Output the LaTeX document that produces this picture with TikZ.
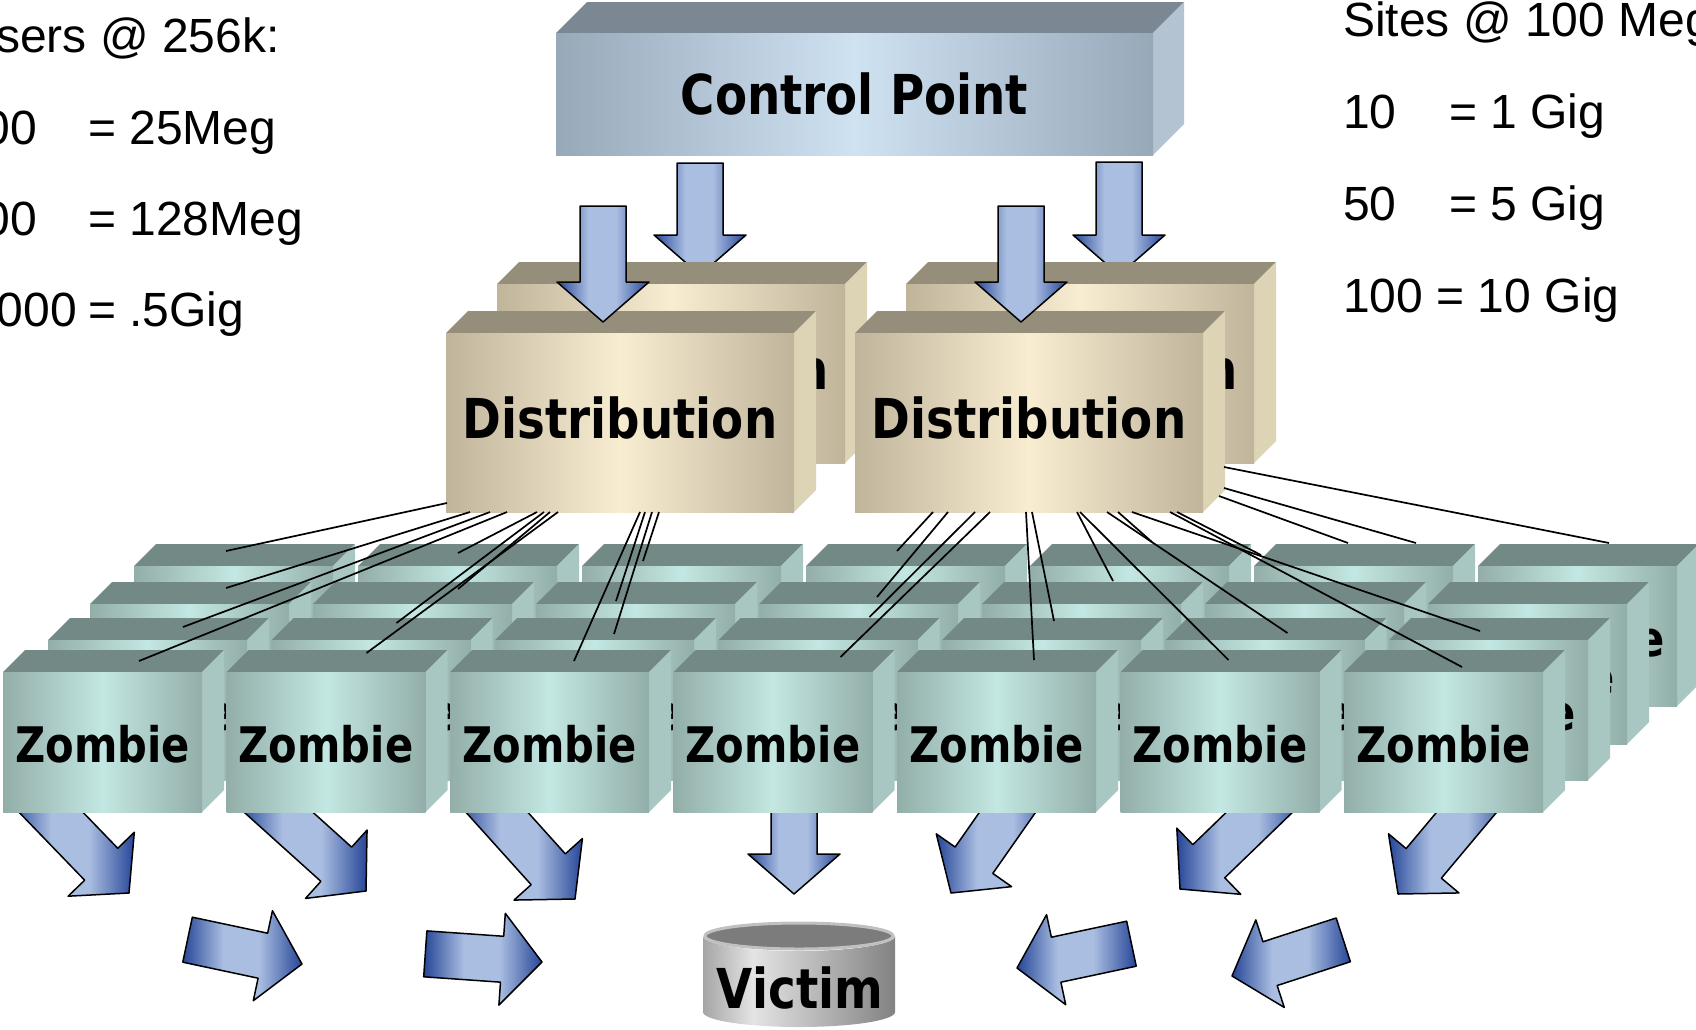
\documentclass[tikz,border=0pt]{standalone}
\usepackage{fontspec}
\setmainfont{Liberation Sans}
\newfontfamily\bxfont[FakeStretch=0.85]{DejaVu Sans Bold}
\usetikzlibrary{calc}
\definecolor{zt}{RGB}{115,137,133}
\definecolor{zs}{RGB}{168,199,194}
\definecolor{ze}{RGB}{147,174,169}
\definecolor{zm}{RGB}{195,231,226}
\definecolor{dt}{RGB}{149,142,122}
\definecolor{ds}{RGB}{221,211,181}
\definecolor{de}{RGB}{192,181,155}
\definecolor{dm}{RGB}{248,237,209}
\definecolor{ct}{RGB}{123,135,146}
\definecolor{cs}{RGB}{179,195,210}
\definecolor{ce}{RGB}{151,168,185}
\definecolor{cm}{RGB}{207,226,242}
\definecolor{adk}{RGB}{38,70,152}
\definecolor{alt}{RGB}{170,190,225}
\definecolor{cy1}{RGB}{165,165,165}
\definecolor{cy2}{RGB}{228,228,228}
\definecolor{cy3}{RGB}{130,130,130}
\definecolor{cytop}{RGB}{124,124,124}
\definecolor{cyrim}{RGB}{192,192,192}
\pgfdeclarehorizontalshading{arrsh}{100bp}{color(0bp)=(adk); color(25bp)=(adk); color(42bp)=(alt); color(57bp)=(alt); color(75bp)=(adk); color(100bp)=(adk)}
\pgfdeclarehorizontalshading{cylsh}{100bp}{color(0bp)=(cy1); color(25bp)=(cy1); color(38bp)=(cy2); color(75bp)=(cy3); color(100bp)=(cy3)}
\newcommand\fcp{\bxfont\fontsize{55}{60}\selectfont}
\newcommand\fdist{\bxfont\fontsize{55}{60}\selectfont}
\newcommand\fzom{\bxfont\fontsize{49}{55}\selectfont}
\newcommand\fvic{\bxfont\fontsize{55}{60}\selectfont}
\newcommand\fside{\fontsize{48}{53}\selectfont}
\newcommand\toff{0}
% 3-D box: name, x, y (front top-left), width, height, depth, palette, font, text
\newcommand\boxthree[9]{%
  \fill[#7top] (#2,#3) -- ++(#6,-#6) -- ++(#4,0) -- ++(-#6,#6) -- cycle;
  \fill[#7side] ({#2+#4},#3) -- ++(#6,-#6) -- ++(0,#5) -- ++(-#6,#6) -- cycle;
  \node[#7front, minimum width=#4, minimum height=#5, anchor=north west] (#1) at (#2,#3) {};
  \node[anchor=base, font=#8, inner sep=0] (t#1) at ($(#1.center)+(0,\toff)$) {#9};
}
% block arrow: name, tip x, tip y, direction (deg, y down), length
\newcommand\blkarrow[5]{%
  \coordinate (#1) at (#2,#3);
  \shadedraw[arr] (#1)
    -- ($(#1)+({#4+180}:40)+({#4+90}:46)$)
    -- ($(#1)+({#4+180}:40)+({#4+90}:23)$)
    -- ($(#1)+({#4+180}:#5)+({#4+90}:23)$)
    -- ($(#1)+({#4+180}:#5)+({#4-90}:23)$)
    -- ($(#1)+({#4+180}:40)+({#4-90}:23)$)
    -- ($(#1)+({#4+180}:40)+({#4-90}:46)$)
    -- cycle;
}
\begin{document}
\begin{tikzpicture}[x=1pt,y=-1pt,
  ztop/.style={fill=zt}, zside/.style={fill=zs},
  zfront/.style={left color=ze, right color=ze, middle color=zm, inner sep=0, outer sep=0},
  dtop/.style={fill=dt}, dside/.style={fill=ds},
  dfront/.style={left color=de, right color=de, middle color=dm, inner sep=0, outer sep=0},
  ctop/.style={fill=ct}, cside/.style={fill=cs},
  cfront/.style={left color=ce, right color=ce, middle color=cm, inner sep=0, outer sep=0},
  arr/.style={shading=arrsh, draw=black, line width=1.5, line join=round},
  link/.style={black, line width=1.7},
  side/.style={font=\fside, inner sep=0}]
\useasboundingbox (0,0) rectangle (1696,1029);
\clip (0,0) rectangle (1696,1029);

% side texts
\node[side, anchor=base west] (u0) at (-4,52) {sers @ 256k:};
\node[side, anchor=base east] (u1a) at (37,144) {00};
\node[side, anchor=base west] (u1b) at (88,144) {= 25Meg};
\node[side, anchor=base east] (u2a) at (37,235) {00};
\node[side, anchor=base west] (u2b) at (88,235) {= 128Meg};
\node[side, anchor=base east] (u3a) at (77,326) {000};
\node[side, anchor=base west] (u3b) at (88,326) {= .5Gig};
\node[side, anchor=base west] (v0) at (1343,36) {Sites @ 100 Meg};
\node[side, anchor=base west] (v1a) at (1343,128) {10};
\node[side, anchor=base west] (v1b) at (1449,128) {= 1 Gig};
\node[side, anchor=base west] (v2a) at (1343,220) {50};
\node[side, anchor=base west] (v2b) at (1449,220) {= 5 Gig};
\node[side, anchor=base west] (v3) at (1343,312) {100 = 10 Gig};

% control point
\renewcommand\toff{20.5}
\boxthree{cp}{556}{33}{597}{122}{31}{c}{\fcp}{Control Point}

% arrows to back distribution boxes
\blkarrow{ca2}{700}{275}{90}{112}
\blkarrow{ca4}{1119}{275}{90}{113}

% distribution boxes
\renewcommand\toff{16}
\boxthree{dbl}{497}{284}{348}{179}{22}{d}{\fdist}{Distribution}
\boxthree{dbr}{906}{284}{348}{179}{22}{d}{\fdist}{Distribution}
\boxthree{dl}{446}{333}{348}{179}{22}{d}{\fdist}{Distribution}
\boxthree{dr}{855}{333}{348}{179}{22}{d}{\fdist}{Distribution}

% arrows to front distribution boxes
\blkarrow{ca1}{603}{322}{90}{116}
\blkarrow{ca3}{1021}{322}{90}{116}

% attack arrows
\blkarrow{za1}{129}{893}{46}{150}
\blkarrow{za2}{366}{891}{42}{150}
\blkarrow{za3}{575}{899}{48}{150}
\blkarrow{za4}{794}{894}{90}{120}
\blkarrow{za5}{951}{893}{125}{150}
\blkarrow{za6}{1180}{889}{136}{150}
\blkarrow{za7}{1398}{894}{130}{150}
\blkarrow{ha1}{302}{964}{12}{117}
\blkarrow{ha2}{542}{962}{4}{117}
\blkarrow{ha3}{1017}{968}{168}{117}
\blkarrow{ha4}{1232}{976}{162}{117}

% victim
\shade[shading=cylsh] (703,936) -- (703,1012)
  arc[start angle=180, end angle=0, x radius=96, y radius=15]
  -- (895,936)
  arc[start angle=0, end angle=180, x radius=96, y radius=15] -- cycle;
\filldraw[fill=cytop, draw=cyrim, line width=3] (799,936) ellipse[x radius=94, y radius=13];
\node[anchor=base, font=\fvic, inner sep=0] (victim) at (800,1008) {Victim};

% zombies
\renewcommand\toff{20}
\foreach \zr/\zx/\zy/\zp in {4/134/566/224, 3/90/604/223, 2/48/640/223.5, 1/3/672/223.5} {
  \foreach \zc in {1,...,7} {
    \pgfmathsetmacro\xx{\zx+\zp*(\zc-1)}
    \boxthree{z\zr\zc}{\xx}{\zy}{199}{140}{22}{z}{\fzom}{Zombie}
  }
}

% links from distribution to zombies
\draw[link] ($(dl.south west)+(1,-9)$) -- ($(z41.north west)+(92,-15)$);
\draw[link] ($(dl.south west)+(24,0)$) -- ($(z31.north west)+(136,-16)$);
\draw[link] ($(dl.south west)+(44,0)$) -- ($(z21.north west)+(135,-13)$);
\draw[link] ($(dl.south west)+(61,0)$) -- ($(z11.north west)+(136,-11)$);
\draw[link] ($(dl.south west)+(91,0)$) -- ($(z42.north west)+(100,-13)$);
\draw[link] ($(dl.south west)+(104,0)$) -- ($(z32.north west)+(145,-15)$);
\draw[link] ($(dl.south west)+(98,0)$) -- ($(z22.north west)+(125,-17)$);
\draw[link] ($(dl.south west)+(112,0)$) -- ($(z12.north west)+(140,-19)$);
\draw[link] ($(dl.south west)+(194,0)$) -- ($(z13.north west)+(124,-11)$);
\draw[link] ($(dl.south west)+(199,0)$) -- ($(z33.north west)+(80,-3)$);
\draw[link] ($(dl.south west)+(206,0)$) -- ($(z23.north west)+(119,-6)$);
\draw[link] ($(dl.south west)+(213,0)$) -- ($(z43.north west)+(61,-5)$);
\draw[link] ($(dr.south west)+(78,0)$) -- ($(z44.north west)+(91,-15)$);
\draw[link] ($(dr.south west)+(93,0)$) -- ($(z34.north west)+(118,-7)$);
\draw[link] ($(dr.south west)+(120,0)$) -- ($(z24.north west)+(151,-23)$);
\draw[link] ($(dr.south west)+(135,0)$) -- ($(z14.north west)+(167,-15)$);
\draw[link] ($(dr.south west)+(171,0)$) -- ($(z15.north west)+(137,-12)$);
\draw[link] ($(dr.south west)+(177,0)$) -- ($(z25.north west)+(112,-19)$);
\draw[link] ($(dr.south west)+(222,0)$) -- ($(z35.north west)+(131,-23)$);
\draw[link] ($(dr.south west)+(225,0)$) -- ($(z16.north west)+(108,-12)$);
\draw[link] ($(dr.south west)+(252,0)$) -- ($(z26.north west)+(122,-7)$);
\draw[link] ($(dr.south west)+(263,0)$) -- ($(z45.north west)+(122,-24)$);
\draw[link] ($(dr.south west)+(277,0)$) -- ($(z27.north west)+(91,-9)$);
\draw[link] ($(dr.south west)+(315,0)$) -- ($(z17.north west)+(118,-5)$);
\draw[link] ($(dr.south west)+(322,0)$) -- ($(z46.north west)+(7,-11)$);
\draw[link] ($(dr.south east)+(21,-45)$) -- ($(z47.north west)+(131,-23)$);
\draw[link] ($(dr.south east)+(21,-24)$) -- ($(z46.north west)+(162,-23)$);
\draw[link] ($(dr.south east)+(16,-16)$) -- ($(z46.north west)+(94,-23)$);
\end{tikzpicture}
\end{document}
